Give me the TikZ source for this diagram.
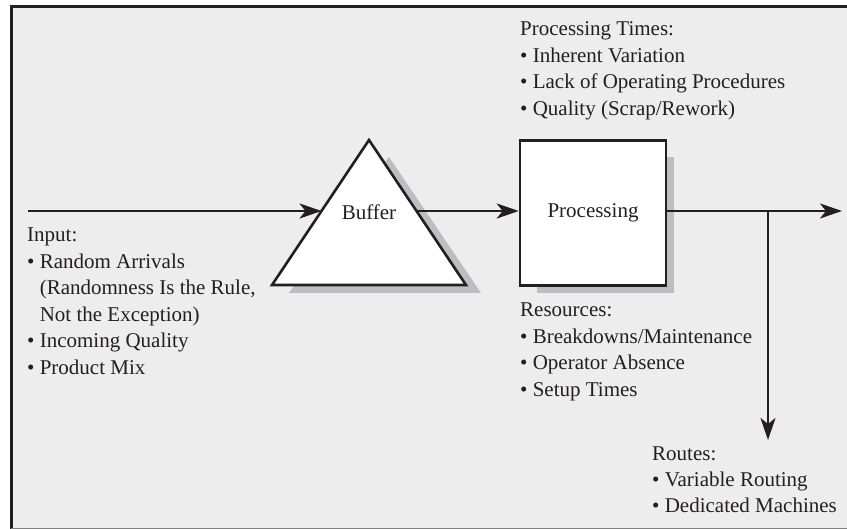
\documentclass[tikz,border=0pt]{standalone}
\usepackage{fontspec}
\setmainfont{Liberation Serif}
\usetikzlibrary{arrows.meta,positioning}
\definecolor{ink}{HTML}{231F20}
\definecolor{paper}{HTML}{EDEDED}
\definecolor{shade}{HTML}{BDBEC2}
\newcommand{\bul}{\textbullet\ }
\newcommand{\cont}{\phantom{\textbullet\ }}

\begin{document}
\begin{tikzpicture}[x=1pt,y=-1pt,
  line/.style={draw=ink,line width=2.6pt},
  flow/.style={line,-{Stealth[length=22pt,width=15pt,inset=6pt]}},
  txt/.style={text=ink,font=\fontsize{21}{26.5}\selectfont},
  note/.style={txt,anchor=base west,inner sep=0pt,align=left},
  shadow/.style={fill=shade,draw=none}]
\useasboundingbox (0,0) rectangle (847,529);
% panel
\fill[paper] (11,6) rectangle (847,529);
\draw[ink,line width=2.6pt,line join=miter] (11.3,529) -- (11.3,6.3) -- (847,6.3);
\draw[gray,line width=1pt] (11,528) -- (847,528);

% buffer triangle with its shadow
\fill[shadow] (389,157) -- (481,293) -- (289,293) -- cycle;
\draw[line,fill=white,line join=miter] (369,140) -- (466,285) -- (272,285) -- cycle;
\node[txt] (buf) at (369,212) {Buffer};
\coordinate (bufin) at (321.5,211);
\coordinate (bufout) at (416.5,211);

% processing box with its shadow
\fill[shadow] (537,157) rectangle (674,293);
\node[line,txt,fill=white,minimum width=146pt,minimum height=145pt,inner sep=0pt] (proc) at (593,213) {Processing};

\coordinate (start) at (28,211);
\coordinate (end) at (842,211);
\coordinate (split) at (768,211);
\coordinate (down) at (768,440);

\draw[flow] (start) -- (bufin);
\draw[flow] (bufout) -- (bufout -| proc.west);
\draw[flow] (proc.east |- end) -- (end);
\draw[flow] (split) -- (down);

% sources of variability (placed by the baseline of the last line)
\node[note] (ptimes) at (520,115.5) {Processing Times:\\
  \bul Inherent Variation\\
  \bul Lack of Operating Procedures\\
  \bul Quality (Scrap/Rework)};
\node[note] (input) at (27,374.5) {Input:\\
  \bul Random Arrivals\\
  \cont(Randomness Is the Rule,\\
  \cont Not the Exception)\\
  \bul Incoming Quality\\
  \bul Product Mix};
\node[note] (res) at (520,396.5) {Resources:\\
  \bul Breakdowns/Maintenance\\
  \bul Operator Absence\\
  \bul Setup Times};
\node[note] (routes) at (652,513) {Routes:\\
  \bul Variable Routing\\
  \bul Dedicated Machines};
\end{tikzpicture}
\end{document}
